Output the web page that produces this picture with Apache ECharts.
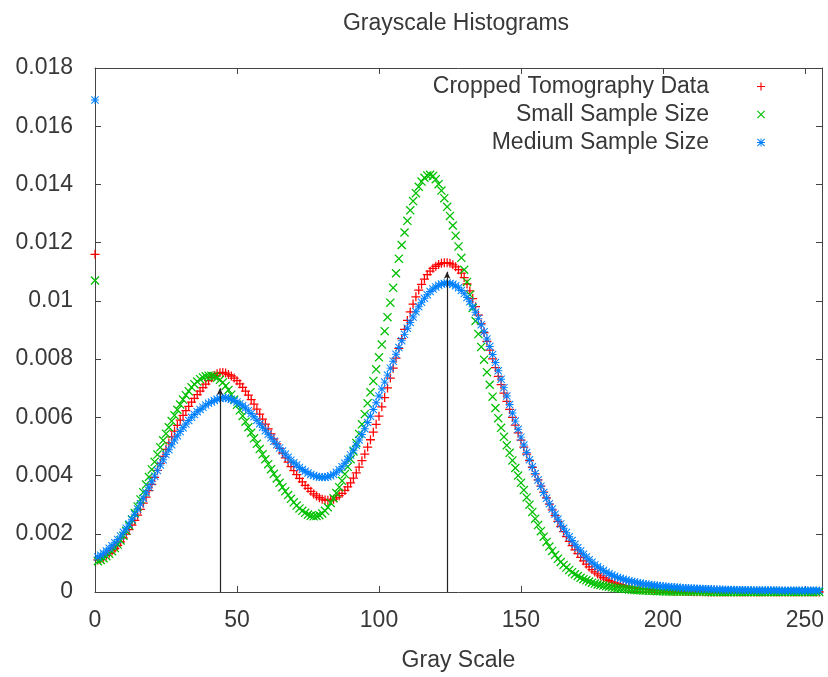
<!DOCTYPE html>
<html><head><meta charset="utf-8">
<script src="https://cdn.jsdelivr.net/npm/echarts@6/dist/echarts.min.js"></script>
<style>html,body{margin:0;padding:0;background:#fff}#c{width:828px;height:677px}</style>
</head><body><div id="c"></div>
<script>
const seriesNames = ['Cropped Tomography Data', 'Small Sample Size', 'Medium Sample Size'];
const chartTitle = 'Grayscale Histograms';
const xName = 'Gray Scale';
const xTicks = [0, 50, 100, 150, 200, 250];
const yTicks = [0, 0.002, 0.004, 0.006, 0.008, 0.01, 0.012, 0.014, 0.016, 0.018];
// vertical marker arrows (gray level, height)
const arrowX = [44, 124];
const arrowY = [0.007, 0.011];

// histogram values, gray level 0..255
const cropped = [.0116,
.00110,.00114,.00119,.00126,.00133,.00141,.00150,.00160,.00172,.00185,
.00199,.00214,.00230,.00246,.00264,.00284,.00305,.00326,.00348,.00370,
.00394,.00418,.00442,.00466,.00490,.00512,.00533,.00553,.00572,.00590,
.00607,.00623,.00638,.00652,.00665,.00678,.00690,.00702,.00714,.00726,
.00736,.00744,.00750,.00753,.00754,.00752,.00747,.00742,.00735,.00726,
.00715,.00703,.00690,.00676,.00661,.00645,.00628,.00611,.00594,.00577,
.00560,.00543,.00526,.00509,.00493,.00477,.00461,.00446,.00431,.00417,
.00403,.00390,.00378,.00366,.00356,.00346,.00337,.00330,.00324,.00319,
.00316,.00315,.00316,.00319,.00324,.00331,.00339,.00349,.00361,.00375,
.00391,.00409,.00429,.00451,.00474,.00498,.00523,.00549,.00576,.00604,
.00636,.00668,.00701,.00735,.00769,.00803,.00837,.00870,.00902,.00933,
.00962,.00989,.01014,.01037,.01057,.01075,.01090,.01102,.01112,.01119,
.01125,.01129,.01131,.01131,.01129,.01124,.01117,.01107,.01095,.01080,
.01058,.01034,.01008,.00980,.00951,.00921,.00891,.00861,.00831,.00801,
.00771,.00741,.00712,.00683,.00655,.00627,.00600,.00573,.00547,.00522,
.00498,.00474,.00451,.00428,.00406,.00385,.00364,.00343,.00323,.00302,
.00282,.00262,.00243,.00225,.00207,.00190,.00174,.00159,.00145,.00132,
.00119,.00107,.00096,.00086,.00077,.00069,.00062,.00055,.00049,.00044,
.00039,.00035,.00031,.00028,.00025,.00022,.00020,.00018,.00016,.00014,
.00013,.00011,.00010,.00009,.00008,.00007,.00006,.00006,.00005,.00005,
.00004,.00004,.00004,.00003,.00003,.00003,.00002,.00002,.00002,.00002,
.00001,.00001,.00001,.00001,.00001,0,0,0,0,0,
0,0,0,0,0,0,0,0,0,0,
0,0,0,0,0,0,0,0,0,0,
0,0,0,0,0,0,0,0,0,0,
0,0,0,0,0];

const small = [.0107,
.00106,.00110,.00116,.00123,.00131,.00140,.00151,.00163,.00177,.00193,
.00210,.00229,.00249,.00271,.00294,.00318,.00343,.00369,.00395,.00421,
.00447,.00472,.00497,.00521,.00544,.00566,.00587,.00607,.00626,.00644,
.00661,.00676,.00690,.00703,.00714,.00723,.00731,.00737,.00741,.00743,
.00743,.00741,.00736,.00729,.00720,.00708,.00694,.00678,.00661,.00643,
.00624,.00605,.00585,.00566,.00547,.00528,.00509,.00491,.00473,.00456,
.00439,.00422,.00406,.00390,.00375,.00360,.00346,.00333,.00320,.00308,
.00297,.00287,.00279,.00272,.00266,.00262,.00260,.00261,.00264,.00270,
.00279,.00291,.00306,.00322,.00340,.00360,.00382,.00405,.00430,.00456,
.00483,.00512,.00543,.00576,.00611,.00648,.00686,.00725,.00765,.00806,
.00850,.00896,.00944,.00994,.01045,.01095,.01145,.01192,.01235,.01275,
.01311,.01343,.01370,.01392,.01410,.01423,.01431,.01433,.01429,.01418,
.01401,.01379,.01353,.01323,.01292,.01259,.01224,.01187,.01148,.01107,
.01065,.01021,.00976,.00931,.00886,.00842,.00798,.00755,.00712,.00671,
.00632,.00597,.00564,.00533,.00504,.00478,.00452,.00426,.00400,.00375,
.00350,.00325,.00300,.00275,.00252,.00230,.00209,.00190,.00172,.00156,
.00141,.00127,.00114,.00103,.00093,.00084,.00076,.00068,.00061,.00055,
.00049,.00044,.00040,.00036,.00032,.00029,.00026,.00024,.00022,.00020,
.00018,.00016,.00014,.00013,.00012,.00011,.00010,.00009,.00008,.00007,
.00006,.00006,.00005,.00005,.00004,.00004,.00004,.00003,.00003,.00003,
.00002,.00002,.00002,.00002,.00002,.00002,.00002,.00002,.00002,.00002,
.00002,.00002,.00002,.00002,.00002,0,0,0,0,0,
0,0,0,0,0,0,0,0,0,0,
0,0,0,0,0,0,0,0,0,0,
0,0,0,0,0,0,0,0,0,0,
0,0,0,0,0];

const medium = [.0169,
.00120,.00126,.00133,.00141,.00150,.00159,.00169,.00180,.00192,.00205,
.00219,.00234,.00250,.00267,.00285,.00303,.00322,.00341,.00360,.00379,
.00398,.00417,.00436,.00454,.00472,.00489,.00506,.00522,.00537,.00551,
.00564,.00577,.00589,.00600,.00610,.00619,.00627,.00635,.00642,.00648,
.00653,.00658,.00662,.00665,.00667,.00667,.00665,.00662,.00658,.00653,
.00647,.00640,.00632,.00623,.00613,.00602,.00590,.00578,.00566,.00554,
.00542,.00530,.00518,.00506,.00495,.00484,.00473,.00463,.00453,.00444,
.00436,.00428,.00421,.00415,.00409,.00404,.00400,.00397,.00395,.00394,
.00394,.00396,.00399,.00404,.00411,.00420,.00430,.00442,.00456,.00471,
.00487,.00504,.00522,.00541,.00561,.00582,.00604,.00627,.00650,.00673,
.00697,.00721,.00745,.00769,.00793,.00817,.00840,.00863,.00885,.00906,
.00926,.00945,.00963,.00980,.00995,.01009,.01021,.01032,.01041,.01048,
.01054,.01058,.01060,.01061,.01060,.01057,.01052,.01045,.01036,.01025,
.01012,.00997,.00980,.00961,.00940,.00918,.00894,.00869,.00843,.00816,
.00788,.00760,.00731,.00702,.00673,.00644,.00615,.00587,.00559,.00532,
.00505,.00479,.00454,.00430,.00407,.00385,.00363,.00342,.00322,.00303,
.00285,.00267,.00250,.00234,.00219,.00204,.00190,.00177,.00164,.00152,
.00141,.00130,.00120,.00111,.00102,.00094,.00087,.00080,.00074,.00068,
.00063,.00058,.00054,.00050,.00047,.00044,.00041,.00038,.00036,.00034,
.00032,.00030,.00028,.00027,.00026,.00024,.00023,.00022,.00021,.00020,
.00019,.00018,.00017,.00016,.00016,.00015,.00014,.00014,.00013,.00013,
.00012,.00012,.00011,.00011,.00010,.00010,.00010,.00009,.00009,.00009,
.00009,.00008,.00008,.00008,.00008,.00007,.00007,.00007,.00007,.00007,
.00006,.00006,.00006,.00006,.00006,.00006,.00006,.00006,.00006,.00006,
.00005,.00005,.00005,.00005,.00005,.00005,.00005,.00005,.00005,.00005,
.00005,.00005,.00005,.00005,.00005];

const FONT = "'Liberation Sans', Arial, sans-serif";
const TXT = '#383838';
const AX = '#444444';
const FS = 23;
const PLUS = 'path://M0,4.3H10V5.7H0Z M4.3,0H5.7V10H4.3Z';
const CROSS = 'path://M0,1L1,0L10,9L9,10Z M9,0L10,1L1,10L0,9Z';
const STAR = 'path://M0,4.4H10V5.6H0Z M4.4,0H5.6V10H4.4Z M0,0.9L0.9,0L10,9.1L9.1,10Z M9.1,0L10,0.9L0.9,10L0,9.1Z';
const colors = ['#ff0000', '#00c000', '#0080ff'];
const symbols = [PLUS, CROSS, STAR];
const sizes = [9, 9, 8];
const dataSets = [cropped, small, medium];

function pts(arr) { return arr.map((v, i) => [i, v]); }

const chart = echarts.init(document.getElementById('c'), null, {renderer: 'canvas'});

const axisCommon = {
  type: 'value',
  axisLine: {show: true, onZero: false, lineStyle: {color: AX, width: 1}},
  axisTick: {show: true, inside: true, length: 6, lineStyle: {color: AX, width: 1}},
  splitLine: {show: false},
  minorTick: {show: false}
};

const option = {
  animation: false,
  backgroundColor: '#ffffff',
  title: {
    text: chartTitle, left: 456, top: 12, textAlign: 'center', padding: 0,
    textStyle: {fontFamily: FONT, fontSize: FS, fontWeight: 'normal', color: TXT}
  },
  grid: {left: 95, right: 6, top: 68, bottom: 83, containLabel: false},
  legend: {
    orient: 'vertical', align: 'right', right: 63, top: 75, padding: 0,
    itemWidth: 8, itemHeight: 8, itemGap: 5, selectedMode: false,
    data: seriesNames.map((n, i) => ({name: n, icon: symbols[i]})),
    textStyle: {fontFamily: FONT, fontSize: FS, color: TXT, lineHeight: 23, padding: [0, 43, 0, 0]}
  },
  xAxis: [
    Object.assign({}, axisCommon, {
      position: 'bottom', min: xTicks[0], max: 256, interval: 50,
      axisLabel: {color: TXT, fontFamily: FONT, fontSize: FS, margin: 17, showMaxLabel: false},
      name: xName, nameLocation: 'middle', nameGap: 57,
      nameTextStyle: {color: TXT, fontFamily: FONT, fontSize: FS}
    }),
    Object.assign({}, axisCommon, {
      position: 'top', min: xTicks[0], max: 256, interval: 50,
      axisLabel: {show: false}
    })
  ],
  yAxis: [
    Object.assign({}, axisCommon, {
      position: 'left', min: yTicks[0], max: yTicks[yTicks.length - 1], interval: 0.002,
      axisLabel: {color: TXT, fontFamily: FONT, fontSize: FS, margin: 22,
        formatter: v => String(Math.round(v * 1000) / 1000)}
    }),
    Object.assign({}, axisCommon, {
      position: 'right', min: yTicks[0], max: yTicks[yTicks.length - 1], interval: 0.002,
      axisLabel: {show: false}
    })
  ],
  series: dataSets.map((d, i) => ({
    name: seriesNames[i], type: 'scatter', xAxisIndex: 0, yAxisIndex: 0,
    data: pts(d), symbol: symbols[i], symbolSize: sizes[i],
    itemStyle: {color: colors[i], opacity: 1},
    silent: true, z: 2 + i, large: false
  })).concat([{
    type: 'scatter', name: 'markers', data: [], xAxisIndex: 0, yAxisIndex: 0, z: 10, silent: true,
    markLine: {
      silent: true, symbol: ['none', 'arrow'], symbolSize: [5, 7], animation: false,
      label: {show: false},
      lineStyle: {color: '#222', width: 1.2, type: 'solid'},
      data: arrowX.map((x, i) => [{coord: [x, 0]}, {coord: [x, arrowY[i]]}])
    }
  }])
};
chart.setOption(option);
</script>
</body></html>
